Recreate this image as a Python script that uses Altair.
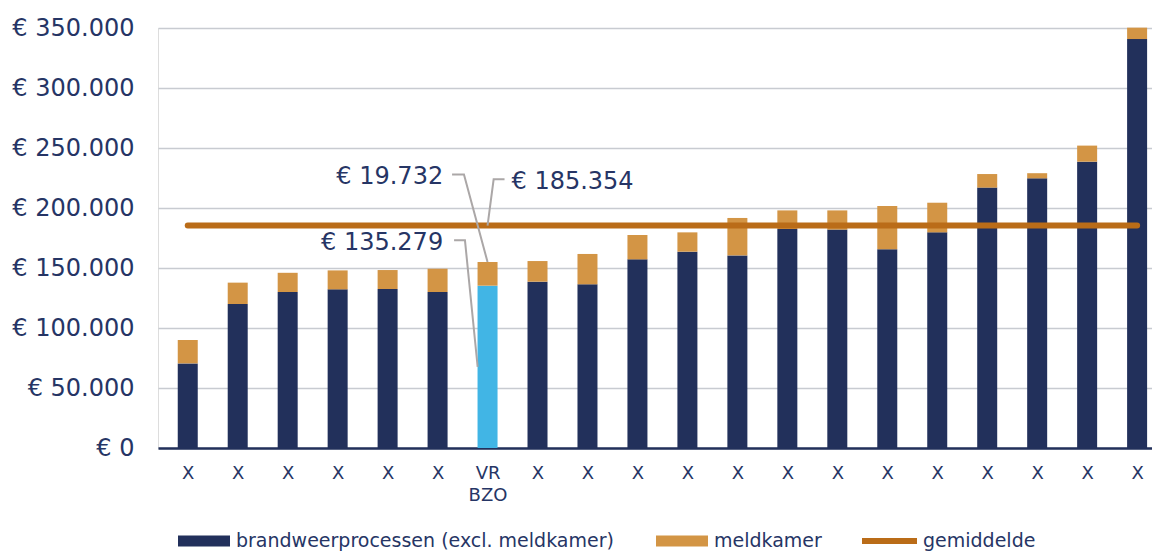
import json
import altair as alt
import pandas as pd

# ---------------- data ----------------
regions = ["X"] * 6 + ["VR|BZO"] + ["X"] * 13
brand = [70500, 120000, 130000, 132200, 132500, 130000, 135279, 138600, 136400, 157200,
         163600, 160500, 182500, 182000, 165600, 179700, 217000, 224700, 238600, 340800]
meld = [19500, 17800, 16000, 15800, 15800, 19400, 19732, 17200, 25300, 20300,
        16100, 31200, 15500, 16000, 36100, 24700, 11300, 4300, 13400, 9500]
average = 185354
highlight = 6
series_names = ["brandweerprocessen (excl. meldkamer)", "meldkamer"]
line_name = "gemiddelde"
y_ticks = [0, 50000, 100000, 150000, 200000, 250000, 300000, 350000]

# annotation labels (text, anchor in category units / euro values, alignment)
ann_text = ["€ 19.732", "€ 185.354", "€ 135.279"]
ann_x = [5.112, 6.479, 5.112]
ann_y = [225800, 221700, 171250]
ann_align = ["right", "left", "right"]
# leader lines (three points each)
lead_x = [[5.290, 5.528, 6.0], [6.340, 6.122, 6.0], [5.330, 5.548, 5.802]]
lead_y = [[227900, 227900, 155011], [223900, 223900, 185354], [173100, 173100, 67640]]

# ---------------- styles ----------------
NAVY = "#22305B"
ORANGE = "#D39545"
LINE = "#BA6C18"
BLUE = "#41B5E5"
TEXT = "#263565"
GRID = "#C8CBD1"
LEADER = "#ABA7A7"
FONT = "DejaVu Sans"

rows = []
for i in range(len(brand)):
    rows.append({"idx": i, "series": series_names[0], "value": brand[i], "ord": 0})
    rows.append({"idx": i, "series": series_names[1], "value": meld[i], "ord": 1})
bars_df = pd.DataFrame(rows)

avg_df = pd.DataFrame({"idx": [0, len(brand) - 1], "value": [average, average],
                       "name": [line_name, line_name]})

lead_rows = []
for a in range(len(lead_x)):
    for k in range(3):
        lead_rows.append({"id": a, "k": k, "x": lead_x[a][k], "y": lead_y[a][k]})
lead_df = pd.DataFrame(lead_rows)

ann_df = pd.DataFrame({"t": ann_text, "x": ann_x, "y": ann_y, "al": ann_align})

xscale = alt.Scale(domain=[-0.4953, 19.198], nice=False, zero=False)
yscale = alt.Scale(domain=[0, 350000], nice=False)

label_expr = "split(" + json.dumps(regions) + "[datum.value], '|')"

x_axis = alt.Axis(values=list(range(len(regions))), labelExpr=label_expr, title=None,
                  ticks=False, grid=False, domainColor=NAVY, domainWidth=2.5,
                  labelFont=FONT, labelFontSize=18, labelColor=TEXT, labelPadding=16,
                  labelLineHeight=22, labelOverlap=False, labelFlush=False)
y_axis = alt.Axis(values=y_ticks, title=None, ticks=False, domain=False,
                  gridColor=GRID, gridWidth=1.5,
                  labelFont=FONT, labelFontSize=24, labelColor=TEXT, labelPadding=24,
                  labelExpr="'€ ' + replace(format(datum.value, ','), ',', '.')")

rect_path = "M-1,-0.2115H1V0.2115H-1Z"

bars = alt.Chart(bars_df).mark_bar(width=20).encode(
    x=alt.X("idx:Q", scale=xscale, axis=x_axis),
    y=alt.Y("value:Q", scale=yscale, axis=y_axis, stack="zero"),
    order=alt.Order("ord:Q"),
    color=alt.condition(
        f"datum.idx == {highlight} && datum.ord == 0",
        alt.value(BLUE),
        alt.Color("series:N",
                  scale=alt.Scale(domain=series_names, range=[NAVY, ORANGE]),
                  legend=alt.Legend(orient="none", legendX=20, legendY=487,
                                    direction="horizontal", title=None, padding=0,
                                    symbolType=rect_path, symbolSize=2704,
                                    symbolStrokeWidth=0, symbolOpacity=1,
                                    labelFont=FONT, labelFontSize=19, labelColor=TEXT,
                                    labelOffset=6, columnPadding=42, labelLimit=600)),
    ),
)

avg_line = alt.Chart(avg_df).mark_line(strokeWidth=6, strokeCap="round").encode(
    x=alt.X("idx:Q", scale=xscale),
    y=alt.Y("value:Q", scale=yscale),
    stroke=alt.Stroke("name:N", scale=alt.Scale(domain=[line_name], range=[LINE]),
                      legend=alt.Legend(orient="none", legendX=701, legendY=482.5,
                                        title=None, padding=0, symbolType="stroke",
                                        symbolSize=3025, symbolStrokeWidth=6,
                                        labelFont=FONT, labelFontSize=19,
                                        labelColor=TEXT, labelOffset=3)),
)

leaders = alt.Chart(lead_df).mark_line(color=LEADER, strokeWidth=2).encode(
    x=alt.X("x:Q", scale=xscale),
    y=alt.Y("y:Q", scale=yscale),
    detail="id:N",
    order="k:Q",
)

txt_right = alt.Chart(ann_df[ann_df["al"] == "right"]).mark_text(
    font=FONT, fontSize=24, color=TEXT, align="right", baseline="middle").encode(
    x=alt.X("x:Q", scale=xscale), y=alt.Y("y:Q", scale=yscale), text="t:N")
txt_left = alt.Chart(ann_df[ann_df["al"] == "left"]).mark_text(
    font=FONT, fontSize=24, color=TEXT, align="left", baseline="middle").encode(
    x=alt.X("x:Q", scale=xscale), y=alt.Y("y:Q", scale=yscale), text="t:N")

chart = alt.layer(bars, avg_line, leaders, txt_right, txt_left).properties(
    width=994, height=420,
    autosize=alt.AutoSizeParams(type="none"),
    padding={"left": 150, "top": 20, "right": 0, "bottom": 103},
).configure_view(stroke=None).configure(background="white")

chart.save("out.html", embed_options={"renderer": "svg", "actions": False})
